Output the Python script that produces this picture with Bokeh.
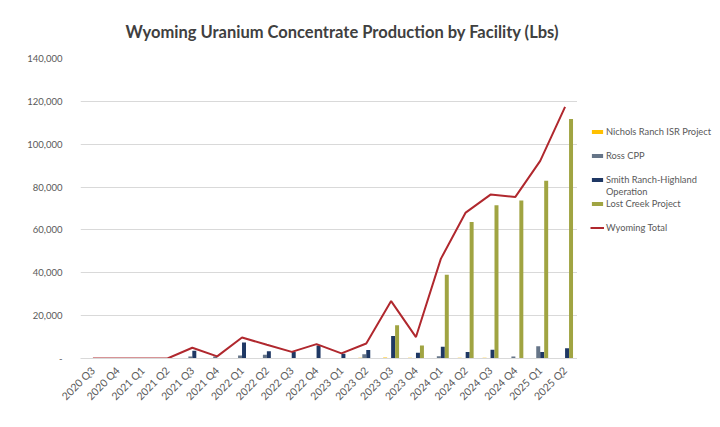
import math
from bokeh.plotting import figure
from bokeh.layouts import row
from bokeh.models import (ColumnDataSource, FactorRange, Range1d, FixedTicker,
                          CustomJSTickFormatter, Legend, LegendItem, Title)
from bokeh.transform import dodge
from bokeh.embed import file_html
from bokeh.resources import INLINE

# ---------------- data ----------------
quarters = ["2020 Q3", "2020 Q4", "2021 Q1", "2021 Q2", "2021 Q3", "2021 Q4",
            "2022 Q1", "2022 Q2", "2022 Q3", "2022 Q4", "2023 Q1", "2023 Q2",
            "2023 Q3", "2023 Q4", "2024 Q1", "2024 Q2", "2024 Q3", "2024 Q4",
            "2025 Q1", "2025 Q2"]
nichols = [0, 0, 0, 0, 0, 0, 0, 0, 0, 0, 0, 400, 500, 400, 0, 300, 300, 0, 0, 0]
ross = [0, 0, 0, 0, 900, 900, 1400, 1800, 0, 0, 0, 2000, 0, 0, 1000, 0, 0, 900, 5700, 0]
smith = [0, 0, 0, 0, 3600, 0, 7500, 3400, 3100, 6100, 2200, 4000, 10500, 2700,
         5500, 3000, 4100, 0, 3000, 4800]
lost_creek = [0, 0, 0, 0, 0, 0, 0, 0, 0, 0, 0, 0, 15500, 6100, 39100, 63700,
              71500, 73700, 83000, 111800]
wyoming_total = [0, 0, 0, 0, 5000, 1000, 9800, 6400, 3100, 6700, 2400, 7000, 26800,
                 10000, 46500, 68100, 76500, 75400, 92200, 117400]
y_ticks = [0, 20000, 40000, 60000, 80000, 100000, 120000, 140000]

title_text = "Wyoming Uranium Concentrate Production by Facility (Lbs)"

FONT = "Lato"
GRAY_TXT = "#595959"
COLORS = dict(nichols="#FFC000", ross="#667588", smith="#1F3864",
              lost="#A0A442", total="#B0282E")

source = ColumnDataSource(dict(quarter=quarters, nichols=nichols, ross=ross,
                               smith=smith, lost=lost_creek, total=wyoming_total))

H = 419
TOP = 58
BOTTOM = H - 358
p = figure(width=577, height=H, x_range=FactorRange(*quarters, range_padding=0),
           y_range=Range1d(0, 140000), output_backend="svg", toolbar_location=None,
           min_border_left=80, min_border_right=0,
           min_border_top=TOP, min_border_bottom=BOTTOM)
p.outline_line_color = None
p.background_fill_color = "white"
p.border_fill_color = "white"

p.title = Title(text=title_text, align="left", offset=45, standoff=33,
                text_font=FONT, text_font_style="bold", text_font_size="16.5px",
                text_color="#404040")


def add_series(fig):
    bw = 0.16
    rs = []
    for k, off in (("nichols", -1.5), ("ross", -0.5), ("smith", 0.5), ("lost", 1.5)):
        rs.append(fig.vbar(x=dodge("quarter", off * bw, range=fig.x_range), top=k,
                           width=bw, source=source, fill_color=COLORS[k],
                           line_color=None))
    rs.append(fig.line(x="quarter", y="total", source=source,
                       line_color=COLORS["total"], line_width=2))
    return rs


add_series(p)

# axes
p.yaxis.ticker = FixedTicker(ticks=y_ticks)
p.yaxis.formatter = CustomJSTickFormatter(
    code="return tick == 0 ? '-' : tick.toLocaleString('en-US');")
p.yaxis.axis_line_color = None
p.yaxis.major_tick_line_color = None
p.yaxis.minor_tick_line_color = None
p.yaxis.major_label_standoff = 12
p.yaxis.major_label_text_font = FONT
p.yaxis.major_label_text_font_size = "9.5px"
p.yaxis.major_label_text_color = GRAY_TXT

p.xaxis.axis_line_color = "#d9d9d9"
p.xaxis.major_tick_line_color = None
p.xaxis.minor_tick_line_color = None
p.xaxis.major_label_orientation = math.pi / 4
p.xaxis.major_label_standoff = 4
p.xaxis.major_label_text_font = FONT
p.xaxis.major_label_text_font_size = "10.5px"
p.xaxis.major_label_text_color = GRAY_TXT

p.xgrid.grid_line_color = None
p.ygrid.grid_line_color = "#d9d9d9"
p.ygrid.grid_line_width = 1

# ---------------- legend panel ----------------
# same series as hidden renderers: only their legend entries are drawn
lg = figure(width=135, height=H, x_range=FactorRange(*quarters),
            y_range=Range1d(-2e6, -1e6),
            output_backend="svg", toolbar_location=None,
            x_axis_type=None, y_axis_type=None,
            min_border_left=0, min_border_right=0, min_border_top=TOP,
            min_border_bottom=BOTTOM)
lg.outline_line_color = None
lg.xgrid.visible = False
lg.ygrid.visible = False
lg.border_fill_color = "white"
lg.background_fill_color = "white"

l1, l2, l3, l4, l5 = add_series(lg)
blank = lg.vbar(x="quarter", top="nichols", width=0.1, source=source,
                fill_alpha=0, line_alpha=0)
for r in (l1, l2, l3, l4, l5, blank):
    r.visible = False

legend = Legend(items=[
    LegendItem(label="Nichols Ranch ISR Project", renderers=[l1]),
    LegendItem(label=" ", renderers=[blank]),
    LegendItem(label="Ross CPP", renderers=[l2]),
    LegendItem(label=" ", renderers=[blank]),
    LegendItem(label="Smith Ranch-Highland", renderers=[l3]),
    LegendItem(label="Operation", renderers=[blank]),
    LegendItem(label="Lost Creek Project", renderers=[l4]),
    LegendItem(label=" ", renderers=[blank]),
    LegendItem(label="Wyoming Total", renderers=[l5]),
], location=(13, 125), orientation="vertical", padding=0, margin=0, spacing=0,
    label_height=12, glyph_height=5, glyph_width=14, label_standoff=2,
    click_policy="none", inactive_fill_alpha=0,
    label_text_font=FONT, label_text_font_size="9.3px", label_text_color=GRAY_TXT,
    border_line_color=None, background_fill_alpha=0)
lg.add_layout(legend, "center")

layout = row(p, lg, spacing=0)
open("out.html", "w").write(file_html(layout, INLINE))
